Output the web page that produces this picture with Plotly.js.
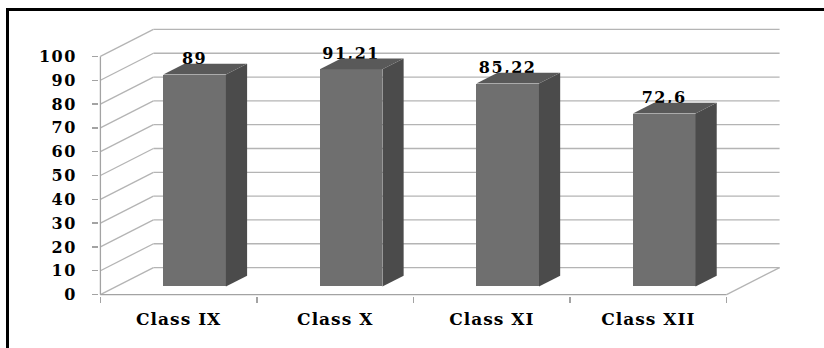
<!DOCTYPE html>
<html>
<head>
<meta charset="utf-8">
<script src="https://cdn.plot.ly/plotly-3.0.1.min.js"></script>
<style>
  html, body { margin: 0; padding: 0; background: #fff; }
  #wrap { position: relative; width: 824px; height: 348px; overflow: hidden; }
  #chart { position: absolute; left: 0; top: 0; width: 824px; height: 348px; }
  #frame {
    position: absolute; left: 6px; top: 8px; right: -10px; bottom: -10px;
    border-top: 3px solid #000; border-left: 3px solid #000;
    pointer-events: none;
  }
  /* wide, heavy lettering for the labels */
  #chart .ytick text, #chart .textpoint text { letter-spacing: 1.5px; }
  #chart .xtick text { letter-spacing: 1px; }
</style>
</head>
<body>
<div id="wrap">
  <div id="chart"></div>
  <div id="frame"></div>
</div>
<script>
// Pass rates per class
const categories = ['Class IX', 'Class X', 'Class XI', 'Class XII'];
const values = [89, 91.21, 85.22, 72.6];
const valueLabels = ['89', '91,21', '85,22', '72,6'];
const yTicks = [0, 10, 20, 30, 40, 50, 60, 70, 80, 90, 100];

// Oblique projection of the depth axis, in data units
const DX = 0.3387;     // horizontal shift of the back wall (category units)
const DY = 11.34;      // vertical shift of the back wall (value units)
const FRONT = 0.3;     // depth fraction of a bar's front face
const BACK = 0.7;      // depth fraction of a bar's back face
const HALF = 0.2;      // half width of a bar (category units)
const N = categories.length;
const YMAX = yTicks[yTicks.length - 1];

const gridColor = '#b4b4b4';
const axisColor = '#a3a3a3';
const font = 'DejaVu Serif, Liberation Serif, serif';

// Walls, floor and gridlines
const shapes = [];
function seg(x0, y0, x1, y1, color) {
  shapes.push({ type: 'line', xref: 'x', yref: 'y', layer: 'below',
    x0: x0, y0: y0, x1: x1, y1: y1, line: { color: color, width: 1.3 } });
}
yTicks.forEach(v => {
  seg(DX, v + DY, N + DX, v + DY, gridColor);  // back wall
  seg(0, v, DX, v + DY, gridColor);            // side wall
});
seg(N, 0, N + DX, DY, gridColor);              // floor, right edge
seg(0, 0, 0, YMAX, axisColor);                 // front value axis
seg(0, 0, N, 0, axisColor);                    // front category axis

const centers = categories.map((c, i) => i + 0.5);

const traces = [];

// Front faces
traces.push({
  type: 'bar',
  x: centers.map(c => c + FRONT * DX),
  y: values,
  base: values.map(() => FRONT * DY),
  width: 2 * HALF,
  marker: { color: '#6f6f6f', line: { width: 0 } },
  hoverinfo: 'skip',
  showlegend: false
});

// Value labels sit behind the top faces
traces.push({
  type: 'scatter',
  mode: 'text',
  x: centers.map(c => c + FRONT * DX),
  y: values.map(v => v + FRONT * DY + 6.0),
  text: valueLabels,
  textposition: 'middle center',
  textfont: { family: font, size: 16, color: '#000', weight: 'bold' },
  cliponaxis: false,
  hoverinfo: 'skip',
  showlegend: false
});

// Side and top faces
values.forEach((v, i) => {
  const xl = centers[i] - HALF, xr = centers[i] + HALF;
  const f1x = FRONT * DX, f1y = FRONT * DY, f2x = BACK * DX, f2y = BACK * DY;
  traces.push({
    type: 'scatter', mode: 'lines', fill: 'toself',
    x: [xr + f1x, xr + f2x, xr + f2x, xr + f1x, xr + f1x],
    y: [f1y, f2y, v + f2y, v + f1y, f1y],
    fillcolor: '#4b4b4b', line: { width: 0, color: '#4b4b4b' },
    hoverinfo: 'skip', showlegend: false
  });
  traces.push({
    type: 'scatter', mode: 'lines', fill: 'toself',
    x: [xl + f1x, xr + f1x, xr + f2x, xl + f2x, xl + f1x],
    y: [v + f1y, v + f1y, v + f2y, v + f2y, v + f1y],
    fillcolor: '#595959', line: { width: 0, color: '#595959' },
    hoverinfo: 'skip', showlegend: false
  });
});

// Small padding so lines on the edges are not clipped
const PX = 0.009, PY = 0.6;
const layout = {
  width: 824, height: 348,
  margin: { l: 98.6, r: 42.6, t: 28.3, b: 51.6, pad: 0 },
  paper_bgcolor: '#fff', plot_bgcolor: '#fff',
  showlegend: false,
  bargap: 0,
  xaxis: {
    range: [-PX, N + DX + PX],
    tickmode: 'array', tickvals: centers, ticktext: categories,
    ticks: '', showgrid: false, zeroline: false, showline: false,
    tickfont: { family: font, size: 17, color: '#000', weight: 'bold' },
    ticklabelstandoff: 11,
    minor: { tickmode: 'array', tickvals: [0, 1, 2, 3, 4], ticks: 'outside',
      ticklen: 6, tickwidth: 1.3, tickcolor: axisColor, showgrid: false },
    fixedrange: true
  },
  yaxis: {
    range: [-PY, YMAX + DY + PY],
    tickmode: 'array', tickvals: yTicks, ticktext: yTicks.map(String),
    ticks: 'outside', ticklen: 6, tickwidth: 1.3, tickcolor: axisColor,
    showgrid: false, zeroline: false, showline: false,
    tickfont: { family: font, size: 16, color: '#000', weight: 'bold' },
    ticklabelstandoff: 12,
    fixedrange: true
  },
  shapes: shapes
};

Plotly.newPlot('chart', traces, layout, { staticPlot: true, displayModeBar: false });
</script>
</body>
</html>
